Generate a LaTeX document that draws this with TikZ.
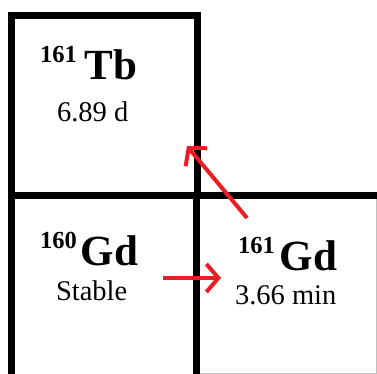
\documentclass[tikz,border=0pt]{standalone}
\usepackage{fontspec}
\setmainfont{Liberation Serif}
\usetikzlibrary{arrows.meta}
\definecolor{arrowred}{RGB}{237,28,36}
\newcommand{\isot}[3]{\raisebox{17pt}{\fontsize{24.5}{24.5}\selectfont\bfseries #1}\hspace{#3}{\fontsize{43}{43}\selectfont\bfseries #2}}
\tikzset{
  cell/.style={line width=7pt, line join=miter},
  elem/.style={anchor=base west, inner sep=0pt, outer sep=0pt},
  half/.style={anchor=base west, inner sep=0pt, outer sep=0pt, font=\fontsize{28.5}{28.5}\selectfont},
  decay/.style={draw=arrowred, line width=4pt, -{Straight Barb[length=12pt, width=28pt, line width=4pt]}},
  edge/.style={draw=black!25, line width=1pt}
}
\begin{document}
\begin{tikzpicture}[x=1pt, y=-1pt]
\useasboundingbox (0,0) rectangle (377,374);
\fill[white] (0,0) rectangle (377,374);
\begin{scope}
\clip (0,0) rectangle (377,374);
\draw[edge] (376.5,195) -- (376.5,373.5) -- (200,373.5);
\draw[cell] (11,16) rectangle (197.5,195.5);
\draw[cell] (11,195.5) -- (11,380);
\draw[cell] (196.5,195.5) -- (196.5,380);
\draw[cell] (7.5,195.5) -- (380,195.5);
\end{scope}
\node[elem] (tb) at (40,80) {\isot{161}{Tb}{8pt}};
\node[half] (tbh) at (57,122) {6.89 d};
\node[elem] (gd160) at (40,265) {\isot{160}{Gd}{4pt}};
\node[half] (gd160h) at (56,300) {Stable};
\node[elem] (gd161) at (238,270) {\isot{161}{Gd}{5pt}};
\node[half] (gd161h) at (235,304) {3.66 min};
\coordinate (hs) at (163,278);
\coordinate (he) at (221,278);
\coordinate (ds) at (247,218);
\coordinate (de) at (187,146);
\draw[decay] (hs) -- (he);
\draw[decay] (ds) -- (de);
\end{tikzpicture}
\end{document}
